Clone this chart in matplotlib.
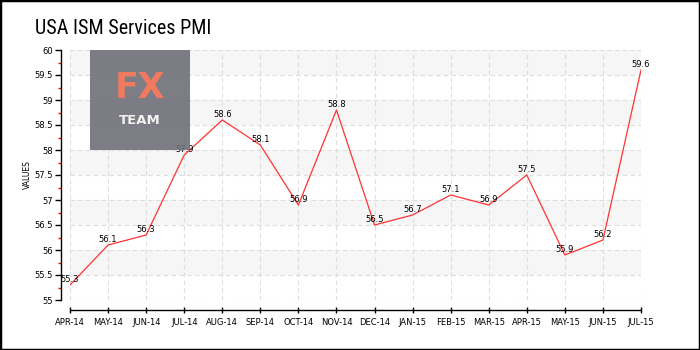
import matplotlib
matplotlib.use("Agg")
import matplotlib.pyplot as plt
from matplotlib.patches import Rectangle
from matplotlib.ticker import MultipleLocator

months = ["Apr-14", "May-14", "Jun-14", "Jul-14", "Aug-14", "Sep-14", "Oct-14", "Nov-14",
          "Dec-14", "Jan-15", "Feb-15", "Mar-15", "Apr-15", "May-15", "Jun-15", "Jul-15"]
values = [55.3, 56.1, 56.3, 57.9, 58.6, 58.1, 56.9, 58.8,
          56.5, 56.7, 57.1, 56.9, 57.5, 55.9, 56.2, 59.6]
y_ticks = [55, 55.5, 56, 56.5, 57, 57.5, 58, 58.5, 59, 59.5, 60]
y_tick_labels = ["55", "55.5", "56", "56.5", "57", "57.5", "58", "58.5", "59", "59.5", "60"]

W, H = 700, 350
fig = plt.figure(figsize=(7, 3.5), dpi=100)
fig.patches.append(Rectangle((0, 0), 1, 1, transform=fig.transFigure, fill=False,
                             edgecolor="black", linewidth=2.5, zorder=10))

# data area in pixels: x 70..641, y 50..300 (from top)
x0, x1, yt, yb = 70, 641, 50, 300
ax = fig.add_axes([x0 / W, 1 - yb / H, (x1 - x0) / W, (yb - yt) / H])
x = list(range(len(months)))
ax.set_xlim(x[0], x[-1])
ax.set_ylim(y_ticks[0], y_ticks[-1])
ax.patch.set_alpha(0)

# alternating bands
for i in range(len(y_ticks) - 1):
    if i % 2 == 1:
        ax.axhspan(y_ticks[i], y_ticks[i + 1], color="#f6f6f6", zorder=0, lw=0)

ax.set_xticks(x)
ax.set_xticklabels([m.upper() for m in months])
ax.set_yticks(y_ticks)
ax.set_yticklabels(y_tick_labels)
ax.yaxis.set_minor_locator(MultipleLocator(0.25))
ax.tick_params(axis="y", which="major", direction="out", length=4, width=1, pad=2,
               labelsize=6)
ax.tick_params(axis="y", which="minor", direction="out", length=2.5, width=1, color="#ff0000")
ax.tick_params(axis="x", which="major", direction="inout", length=5, width=1, pad=3,
               labelsize=6)
ax.grid(True, which="major", color="#dddddd", linestyle=(0, (4, 3)), linewidth=0.8)
ax.set_axisbelow(True)

for s in ["top", "right"]:
    ax.spines[s].set_visible(False)
ax.spines["left"].set_position(("outward", 6.5))
ax.spines["bottom"].set_position(("outward", 7.2))
ax.spines["left"].set_linewidth(1)
ax.spines["bottom"].set_linewidth(1)

ax.plot(x, values, color="#ff3333", linewidth=0.9, zorder=3)
for xi, v in zip(x, values):
    ax.annotate(f"{v:.1f}", (xi, v), xytext=(0, 1), textcoords="offset points",
                ha="center", va="bottom", fontsize=6, zorder=4)

ax.set_ylabel("VALUES", fontsize=5.5, labelpad=1.5)

# logo
logo = fig.add_axes([90 / W, 1 - 150 / H, 100 / W, 100 / H])
logo.set_xlim(0, 1)
logo.set_ylim(0, 1)
logo.axis("off")
logo.add_patch(Rectangle((0, 0), 1, 1, color="#6f6f78", alpha=0.9, lw=0))
logo.text(0.5, 0.62, "FX", color="#f07a60", fontsize=25, ha="center", va="center",
          family="DejaVu Sans", fontweight="bold")
logo.text(0.5, 0.29, "TEAM", color="#f2f2f2", fontsize=9.5, ha="center", va="center",
          family="DejaVu Sans", fontweight="bold")

fig.text(35 / W, 1 - 28 / H, "USA ISM Services PMI", fontsize=14.5, ha="left", va="center",
         family=["Roboto Condensed", "Liberation Sans Narrow", "DejaVu Sans"])

fig.savefig("out.png", dpi=100)
